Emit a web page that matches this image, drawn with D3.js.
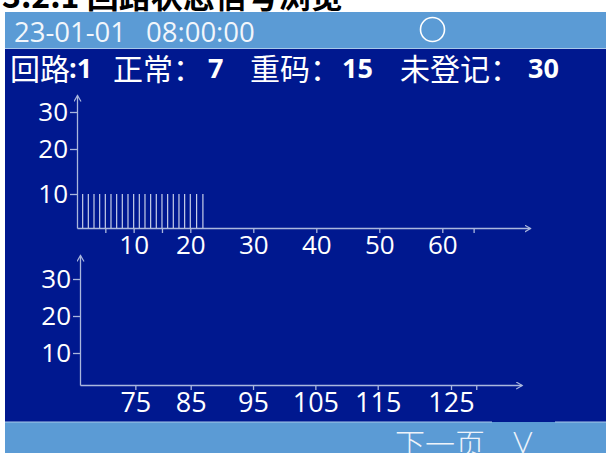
<!DOCTYPE html>
<html>
<head>
<meta charset="utf-8">
<script src="https://cdn.jsdelivr.net/npm/d3@7"></script>
<style>
  body { margin: 0; background: #fff; }
  .axis path, .axis line { stroke: #aab7dd; stroke-width: 1.3; }
  .axis text { fill: #fff; font-family: "Open Sans", Lato, sans-serif; }
</style>
</head>
<body>
<div class="screen"></div>
<script>
const width = 606;
const height = 453;

// data
const titleText = "3.2.1 回路状态信号浏览";
const dateText = "23-01-01";
const timeText = "08:00:00";
const loopNo = 1;
const normalCount = 7;
const dupCount = 15;
const unregCount = 30;

const topAddr = [1, 2, 3, 4, 5, 6, 7, 8, 9, 10, 11, 12, 13, 14, 15, 16, 17, 18, 19, 20, 21, 22];
const topValues = [10, 10, 10, 10, 10, 10, 10, 10, 10, 10, 10, 10, 10, 10, 10, 10, 10, 10, 10, 10, 10, 10];
const topTicks = [5, 10, 15, 20, 30, 40, 50, 60, 65];
const topTickLabels = [10, 20, 30, 40, 50, 60];
const bottomAddr = [];
const bottomValues = [];
const bottomTicks = [75, 85, 95, 105, 115, 125, 130];
const bottomTickLabels = [75, 85, 95, 105, 115, 125];
const yTicks = [10, 20, 30];

const svg = d3.select(".screen").append("svg")
    .attr("width", width)
    .attr("height", height)
    .attr("viewBox", [0, 0, width, height]);

// arrow head for axes
svg.append("defs").append("marker")
    .attr("id", "arrow")
    .attr("markerUnits", "userSpaceOnUse")
    .attr("markerWidth", 10).attr("markerHeight", 10)
    .attr("refX", 6).attr("refY", 3.5)
    .attr("orient", "auto")
  .append("path")
    .attr("d", "M0,0L6,3.5L0,7")
    .attr("fill", "none")
    .attr("stroke", "#aab7dd")
    .attr("stroke-width", 1.2);

// screen panels
svg.append("rect").attr("x", 5).attr("y", 12).attr("width", 601).attr("height", 37).attr("fill", "#5b9bd5");
svg.append("rect").attr("x", 5).attr("y", 49).attr("width", 601).attr("height", 373).attr("fill", "#00188f");
svg.append("rect").attr("x", 5).attr("y", 422).attr("width", 601).attr("height", 31).attr("fill", "#5b9bd5");
svg.append("line").attr("x1", 5).attr("x2", 606).attr("y1", 48.5).attr("y2", 48.5)
    .attr("stroke", "#a9c9ea").attr("stroke-width", 1);
svg.append("line").attr("x1", 5).attr("x2", 492).attr("y1", 422).attr("y2", 422)
    .attr("stroke", "#a9c9ea").attr("stroke-width", 1);
svg.append("line").attr("x1", 555).attr("x2", 606).attr("y1", 422).attr("y2", 422)
    .attr("stroke", "#a9c9ea").attr("stroke-width", 1);

// title (cut off at top)
svg.append("text")
    .attr("x", 2).attr("y", 8)
    .attr("font-family", "'Noto Sans CJK SC', sans-serif")
    .attr("font-weight", "bold")
    .attr("font-size", 32)
    .attr("fill", "#000")
    .text(titleText);

// header line
svg.append("text").attr("x", 14).attr("y", 42)
    .attr("font-family", "'Open Sans', sans-serif").attr("font-size", 27.5).attr("fill", "#f2f6fb")
    .text(dateText);
svg.append("text").attr("x", 146).attr("y", 42)
    .attr("font-family", "'Open Sans', sans-serif").attr("font-size", 27.5).attr("fill", "#f2f6fb")
    .text(timeText);
svg.append("circle").attr("cx", 432.5).attr("cy", 29.5).attr("r", 12)
    .attr("fill", "none").attr("stroke", "#fff").attr("stroke-width", 1.6);

// status line
const cjk = "'Noto Sans CJK SC', sans-serif";
const status = [
    {t: "回路", x: 10, bold: false},
    {t: ":" + loopNo, x: 69, bold: true},
    {t: "正常：", x: 113, bold: false},
    {t: String(normalCount), x: 208, bold: true},
    {t: "重码：", x: 250, bold: false},
    {t: String(dupCount), x: 342, bold: true},
    {t: "未登记：", x: 400, bold: false},
    {t: String(unregCount), x: 528, bold: true}
];
svg.selectAll(".status").data(status).enter().append("text")
    .attr("class", "status")
    .attr("x", d => d.x)
    .attr("y", d => d.bold ? 78 : 80)
    .attr("font-family", d => d.bold ? "'Open Sans', sans-serif" : cjk)
    .attr("font-weight", d => d.bold ? "bold" : "normal")
    .attr("font-size", d => d.bold ? 27 : 30)
    .attr("fill", "#fff")
    .text(d => d.t);

// top chart
const xTop = d3.scaleLinear().domain([0, 20, 60, 74]).range([77, 190.3, 442.3, 530]);
const yTop = d3.scaleLinear().domain([0, 10, 20, 30, 34.6]).range([228, 194, 149, 112, 95]);

// bottom chart
const xBot = d3.scaleLinear().domain([65, 85, 115, 125, 139]).range([80, 190.7, 377.7, 451, 521.7]);
const yBot = d3.scaleLinear().domain([0, 10, 20, 30, 36.5]).range([385, 353, 316, 279, 255]);

function drawAxes(x, y, ticks, labels, fontSize) {
    const g = svg.append("g");
    g.append("g").attr("class", "axis")
        .attr("transform", "translate(0," + y.range()[0] + ")")
        .call(d3.axisBottom(x).tickValues(ticks).tickSizeInner(5).tickSizeOuter(0).tickPadding(3)
            .tickFormat(d => labels.includes(d) ? d : ""))
        .call(a => a.selectAll("text").attr("font-size", fontSize))
        .call(a => a.select(".domain").attr("marker-end", "url(#arrow)"));
    g.append("g").attr("class", "axis")
        .attr("transform", "translate(" + x.range()[0] + ",0)")
        .call(d3.axisLeft(y).tickValues(yTicks).tickSizeInner(7).tickSizeOuter(0).tickPadding(2))
        .call(a => a.selectAll("text").attr("font-size", 26))
        .call(a => a.select(".domain").attr("marker-end", "url(#arrow)"));
    g.selectAll(".axis").attr("font-family", null).attr("font-size", null);
    return g;
}

const gTop = drawAxes(xTop, yTop, topTicks, topTickLabels, 26);
const gBot = drawAxes(xBot, yBot, bottomTicks, bottomTickLabels, 27);

const topData = topAddr.map((a, i) => ({addr: a, value: topValues[i]}));
gTop.selectAll(".bar").data(topData).enter().append("line")
    .attr("class", "bar")
    .attr("x1", d => xTop(d.addr)).attr("x2", d => xTop(d.addr))
    .attr("y1", yTop(0)).attr("y2", d => yTop(d.value))
    .attr("stroke", "#c6cee8").attr("stroke-width", 1.2);

const botData = bottomAddr.map((a, i) => ({addr: a, value: bottomValues[i]}));
gBot.selectAll(".bar").data(botData).enter().append("line")
    .attr("class", "bar")
    .attr("x1", d => xBot(d.addr)).attr("x2", d => xBot(d.addr))
    .attr("y1", yBot(0)).attr("y2", d => yBot(d.value))
    .attr("stroke", "#c6cee8").attr("stroke-width", 1.2);

// footer
svg.append("text").attr("x", 395).attr("y", 455)
    .attr("font-family", cjk).attr("font-weight", 300).attr("font-size", 30).attr("fill", "#eef3fa")
    .text("下一页");
svg.append("text").attr("x", 513).attr("y", 453)
    .attr("font-family", "Lato, sans-serif").attr("font-weight", 300).attr("font-size", 30).attr("fill", "#eef3fa")
    .text("V");
</script>
</body>
</html>
